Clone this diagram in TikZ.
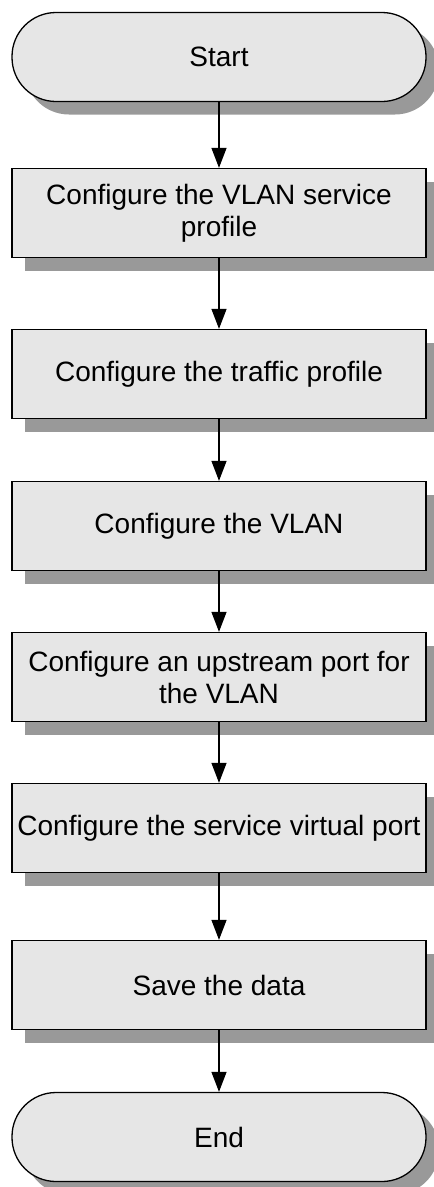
\documentclass[tikz,border=0pt]{standalone}
\usepackage{fontspec}
\setmainfont{Liberation Sans}
\usetikzlibrary{shapes,arrows.meta,positioning}
\definecolor{boxgray}{HTML}{E6E6E6}
\definecolor{shadowgray}{HTML}{999999}

\begin{document}
\begin{tikzpicture}[x=1pt,y=-1pt,
    every node/.style={font=\fontsize{28}{32}\selectfont, align=center},
    shadowed/.style={preaction={fill=shadowgray, transform canvas={xshift=13pt,yshift=-13pt}}},
    stepbox/.style={draw, line width=1.3pt, fill=boxgray, shadowed, minimum width=414pt, minimum height=89pt, inner sep=0pt},
    terminal/.style={stepbox, rounded corners=44pt},
    flow/.style={-{Triangle[length=20pt,width=15pt]}, line width=1.3pt}]
  \useasboundingbox (0,0) rectangle (434,1187);
  \clip (0,0) rectangle (434,1187);

  % Start / End
  \node[terminal] (start) at (219,57) {Start};
  \node[terminal] (end) at (219,1137) {End};

  % Steps
  \node[stepbox] (vlansrv) at (219,213) {Configure the VLAN service\\profile};
  \node[stepbox] (traffic) at (219,374) {Configure the traffic profile};
  \node[stepbox] (vlan) at (219,526) {Configure the VLAN};
  \node[stepbox] (uplink) at (219,677) {Configure an upstream port for\\the VLAN};
  \node[stepbox] (vport) at (219,828) {Configure the service virtual port};
  \node[stepbox] (save) at (219,985) {Save the data};

  % Arrows
  \draw[flow] (start) -- (vlansrv);
  \draw[flow] (vlansrv) -- (traffic);
  \draw[flow] (traffic) -- (vlan);
  \draw[flow] (vlan) -- (uplink);
  \draw[flow] (uplink) -- (vport);
  \draw[flow] (vport) -- (save);
  \draw[flow] (save) -- (end);

\end{tikzpicture}
\end{document}
